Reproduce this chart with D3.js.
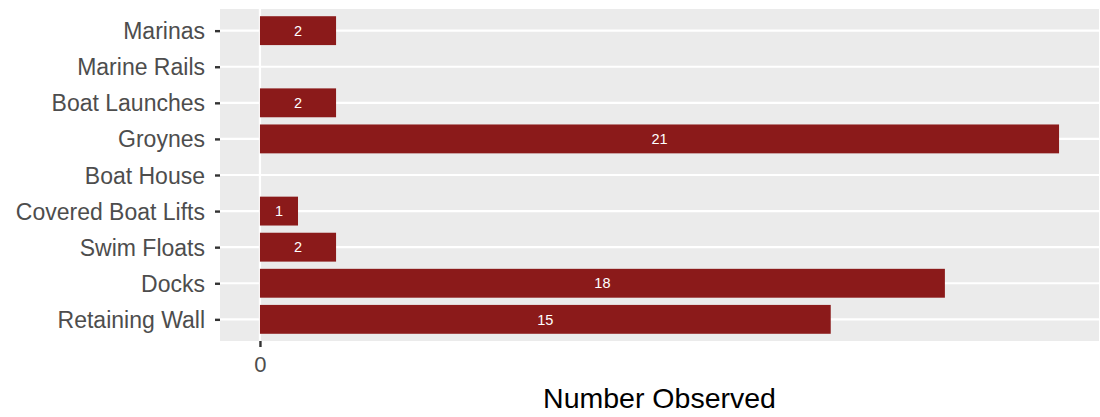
<!DOCTYPE html>
<html><head><meta charset="utf-8">
<script src="https://cdn.jsdelivr.net/npm/d3@7"></script>
<style>body{margin:0;background:#fff}svg{display:block}</style>
</head><body><svg id="c" width="1100" height="417"></svg>
<script>
const categories = ["Marinas","Marine Rails","Boat Launches","Groynes","Boat House","Covered Boat Lifts","Swim Floats","Docks","Retaining Wall"];
const counts = [2,0,2,21,0,1,2,18,15];
const xTicks = [0];
const xTitle = "Number Observed";

const svg = d3.select("#c");
const L = 220, R = 1099, T = 9, B = 341;
const FONT = "Liberation Sans, Arial, sans-serif";
const x = d3.scaleLinear().domain([-1.05, 22.05]).range([L, R]);
const y = d3.scalePoint().domain(categories).range([T, B]).padding(0.6);
const step = y.step();
const bh = step * 0.8;

svg.append("rect").attr("x", L).attr("y", T).attr("width", R - L).attr("height", B - T).attr("fill", "#ebebeb");
svg.selectAll(".hg").data(categories).enter().append("line")
  .attr("x1", L).attr("x2", R).attr("y1", d => y(d)).attr("y2", d => y(d))
  .attr("stroke", "#fff").attr("stroke-width", 2.2);
svg.selectAll(".vg").data(xTicks).enter().append("line")
  .attr("x1", d => x(d)).attr("x2", d => x(d)).attr("y1", T).attr("y2", B)
  .attr("stroke", "#fff").attr("stroke-width", 2.2);

const data = categories.map((c, i) => ({c, v: counts[i]}));
svg.selectAll(".bar").data(data.filter(d => d.v > 0)).enter().append("rect")
  .attr("x", x(0)).attr("y", d => y(d.c) - bh / 2)
  .attr("width", d => x(d.v) - x(0)).attr("height", bh)
  .attr("fill", "#8b1a1a");
svg.selectAll(".lab").data(data.filter(d => d.v > 0)).enter().append("text")
  .attr("x", d => (x(0) + x(d.v)) / 2).attr("y", d => y(d.c))
  .attr("dy", "0.36em").attr("text-anchor", "middle")
  .attr("fill", "#fff").attr("font-family", FONT).attr("font-size", 14.5)
  .text(d => d.v);

// y axis
const ya = svg.append("g").attr("transform", `translate(${L},0)`)
  .call(d3.axisLeft(y).tickSize(5).tickPadding(10));
ya.select(".domain").remove();
ya.selectAll("line").attr("stroke", "#333").attr("stroke-width", 2.4);
ya.selectAll("text").attr("fill", "#4d4d4d").attr("font-family", FONT).attr("font-size", 23).attr("dy", "0.35em");

// x axis
const xa = svg.append("g").attr("transform", `translate(0,${B})`)
  .call(d3.axisBottom(x).tickValues(xTicks).tickSize(6).tickPadding(9).tickFormat(d3.format("d")));
xa.select(".domain").remove();
xa.selectAll("line").attr("stroke", "#333").attr("stroke-width", 2.4);
xa.selectAll("text").attr("fill", "#4d4d4d").attr("font-family", FONT).attr("font-size", 22);

svg.append("text").attr("x", (L + R) / 2).attr("y", 408).attr("text-anchor", "middle")
  .attr("fill", "#000").attr("font-family", FONT).attr("font-size", 28.5)
  .text(xTitle);
</script></body></html>
